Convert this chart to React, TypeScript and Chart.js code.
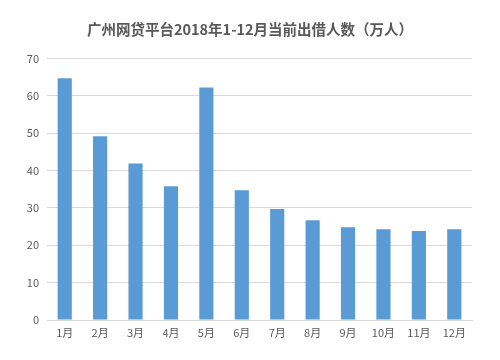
import React, { useEffect, useRef } from "react";
import { Chart, registerables } from "chart.js";

Chart.register(...registerables);

const title = "广州网贷平台2018年1-12月当前出借人数（万人）";
const months = ["1月", "2月", "3月", "4月", "5月", "6月", "7月", "8月", "9月", "10月", "11月", "12月"];
const lenders = [64.7, 49.2, 41.9, 35.8, 62.2, 34.7, 29.7, 26.7, 24.8, 24.3, 23.8, 24.3];
const yMin = 0;
const yMax = 70;
const yStep = 10;

const FONT = "'Noto Sans CJK SC', 'Noto Sans', sans-serif";

export default function App() {
  const ref = useRef<HTMLCanvasElement | null>(null);

  useEffect(() => {
    document.body.style.margin = "0";
    const canvas = ref.current;
    if (!canvas) return;
    const chart = new Chart(canvas, {
      type: "bar",
      data: {
        labels: months,
        datasets: [
          {
            data: lenders,
            backgroundColor: "#5b9bd5",
            borderWidth: 0,
            barPercentage: 0.4,
            categoryPercentage: 1,
          },
        ],
      },
      options: {
        animation: false,
        responsive: false,
        maintainAspectRatio: false,
        layout: { padding: 0 },
        plugins: {
          legend: { display: false },
          tooltip: { enabled: false },
          title: {
            display: true,
            text: title,
            color: "#595959",
            font: { family: FONT, size: 14.5, weight: "bold" },
            padding: { top: 21, bottom: 20 },
          },
        },
        scales: {
          x: {
            grid: { display: false, drawTicks: false },
            border: { display: true, color: "#d9d9d9", width: 1 },
            ticks: {
              color: "#595959",
              font: { family: FONT, size: 11 },
              padding: 6,
              maxRotation: 0,
              autoSkip: false,
            },
            afterFit: (scale: any) => {
              scale.height = 40;
            },
          },
          y: {
            min: yMin,
            max: yMax,
            grid: { color: "#d9d9d9", drawTicks: false },
            border: { display: false },
            ticks: {
              stepSize: yStep,
              color: "#595959",
              font: { family: FONT, size: 11 },
              padding: 8,
            },
            afterFit: (scale: any) => {
              scale.width = 47;
            },
          },
          yRight: {
            position: "right",
            min: yMin,
            max: yMax,
            grid: { display: false, drawTicks: false },
            border: { display: false },
            ticks: { display: false },
            afterFit: (scale: any) => {
              scale.width = 28;
            },
          },
        },
      },
    });
    return () => chart.destroy();
  }, []);

  return (
    <div style={{ position: "absolute", left: 0, top: 0, width: 500, height: 360, background: "#fff" }}>
      <canvas ref={ref} width={500} height={360} style={{ width: 500, height: 360 }} />
    </div>
  );
}
